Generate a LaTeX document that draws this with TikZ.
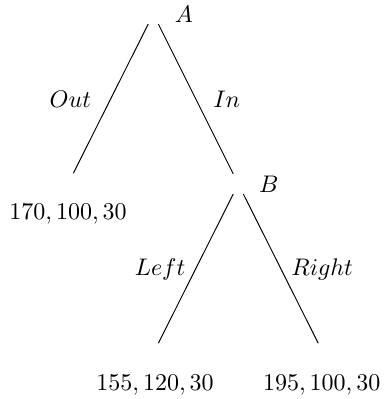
\documentclass[tikz,border=0pt]{standalone}
\begin{document}
\begin{tikzpicture}[x=0.4167pt,y=-0.4167pt,
  edge/.style={draw,line width=0.4pt,shorten <=4.7pt,shorten >=4.7pt},
  txt/.style={anchor=base,inner sep=0pt,outer sep=0pt}]
\useasboundingbox (0,0) rectangle (385,399);
\coordinate (A) at (153.3,14);
\coordinate (B) at (238.3,184);
\coordinate (L1) at (68.3,183.3);
\coordinate (L2) at (153.3,353.3);
\coordinate (L3) at (323.3,353.3);
\path[edge] (A) -- (L1);
\path[edge] (A) -- (B);
\path[edge] (B) -- (L2);
\path[edge] (B) -- (L3);
\node[txt] (labA) at (183.8,22.7) {$A$};
\node[txt] (labB) at (268.8,192.3) {$B$};
\node[txt] (out) at (70.3,107.3) {$Out$};
\node[txt] (in) at (226.7,107.3) {$In$};
\node[txt] (left) at (160,275) {$Left$};
\node[txt] (right) at (322.2,275) {$Right$};
\node[txt] (v1) at (68,220) {$170,100,30$};
\node[txt] (v2) at (155,390) {$155,120,30$};
\node[txt] (v3) at (321.7,390) {$195,100,30$};
\end{tikzpicture}
\end{document}
